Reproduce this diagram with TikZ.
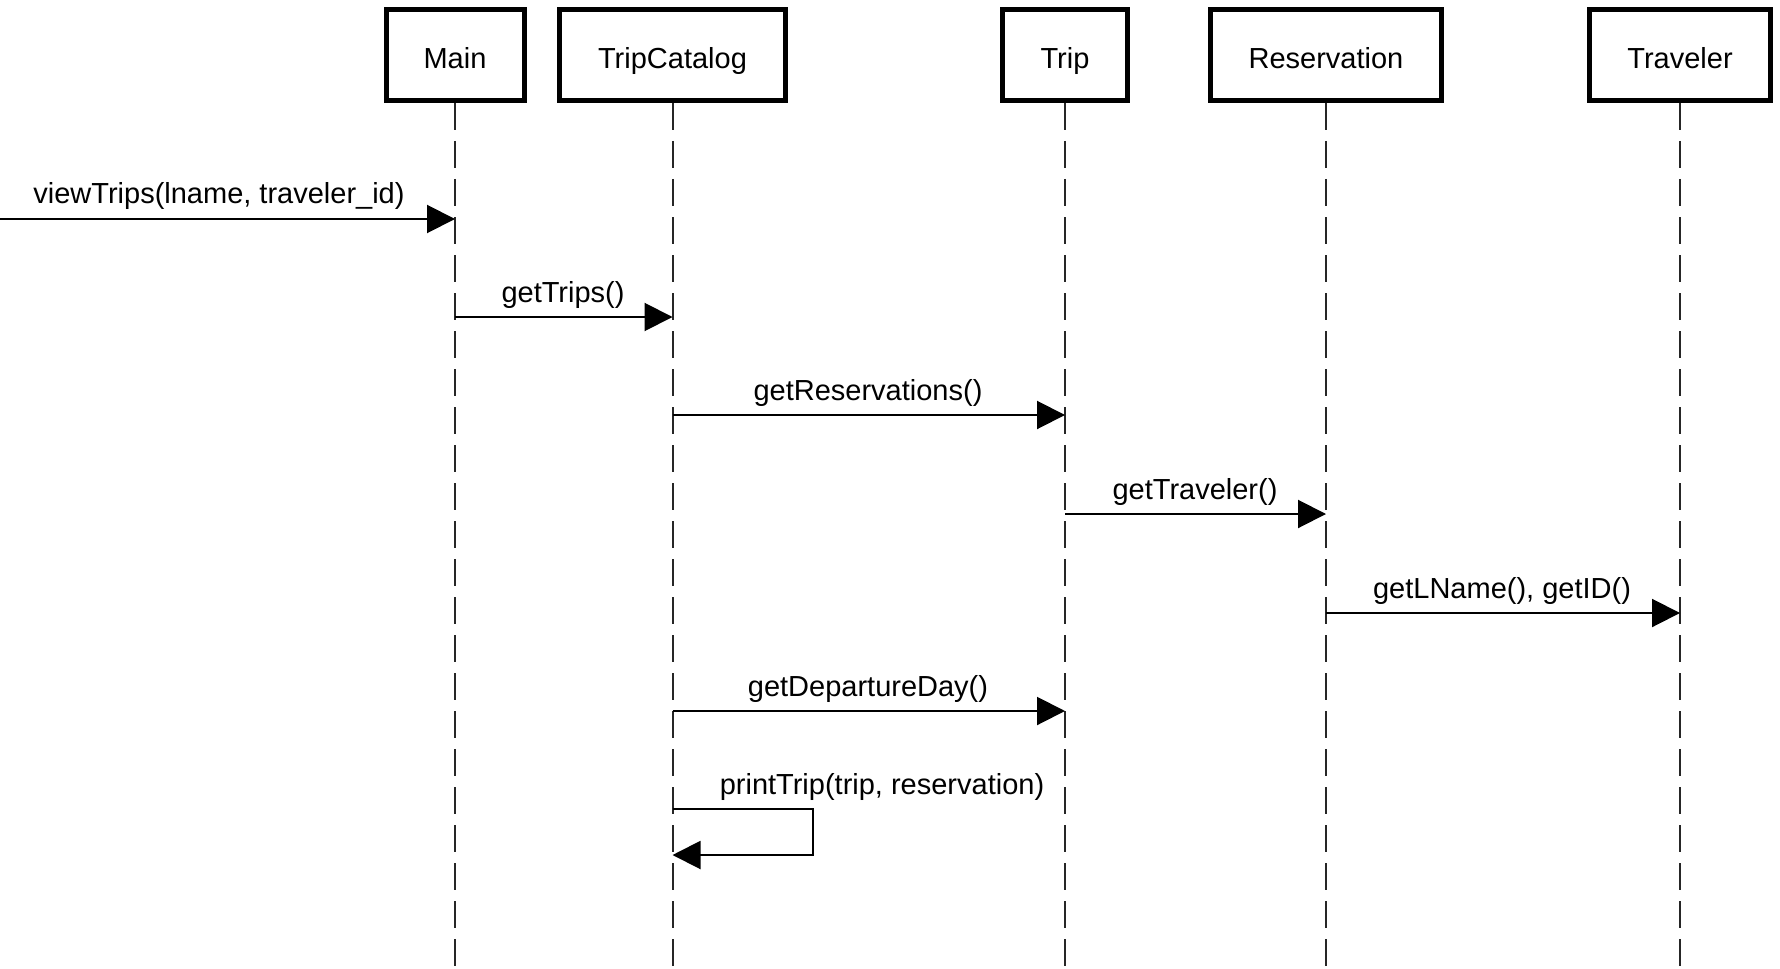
\documentclass[tikz,border=0pt]{standalone}
\usepackage{fontspec}
\setmainfont{Liberation Sans}
\usetikzlibrary{arrows.meta}
\tikzset{
  actor/.style={draw=black, line width=2.5pt, fill=white, minimum height=45.5pt, inner sep=0pt, text height=13.8pt, text depth=0pt, font=\fontsize{14.5}{17}\selectfont},
  lifeline/.style={draw=black!85, line width=1pt, dash pattern=on 13.5pt off 5.5pt},
  msg/.style={draw=black, line width=1pt, -{Triangle[length=14pt,width=14pt]}},
  lbl/.style={anchor=base, inner sep=0pt, font=\fontsize{14.5}{17}\selectfont}
}
\begin{document}
\begin{tikzpicture}[x=0.5pt,y=-0.5pt]
\useasboundingbox (0,0) rectangle (1780,968);
% actors
\node[actor, minimum width=69pt]  (main) at (455,55) {Main};
\node[actor, minimum width=113pt] (tc)   at (672.5,55) {TripCatalog};
\node[actor, minimum width=62.5pt]  (trip) at (1065,55) {Trip};
\node[actor, minimum width=115.5pt] (res)  at (1326,55) {Reservation};
\node[actor, minimum width=90.5pt]  (trav) at (1680,55) {Traveler};
% lifeline ends
\coordinate (mainE) at (455,968);
\coordinate (tcE)   at (672.5,968);
\coordinate (tripE) at (1065,968);
\coordinate (resE)  at (1326,968);
\coordinate (travE) at (1680,968);
\draw[lifeline] (main.south) -- (mainE);
\draw[lifeline] (tc.south) -- (tcE);
\draw[lifeline] (trip.south) -- (tripE);
\draw[lifeline] (res.south) -- (resE);
\draw[lifeline] (trav.south) -- (travE);
% message anchor points
\coordinate (start) at (-20,219);
\coordinate (m1) at (455,219);
\coordinate (m2s) at (455,317);
\coordinate (m2e) at (672.5,317);
\coordinate (m3s) at (672.5,415);
\coordinate (m3e) at (1065,415);
\coordinate (m4s) at (1065,514);
\coordinate (m4e) at (1326,514);
\coordinate (m5s) at (1326,613);
\coordinate (m5e) at (1680,613);
\coordinate (m6s) at (672.5,711);
\coordinate (m6e) at (1065,711);
\coordinate (m7s) at (672.5,809);
\coordinate (m7a) at (813,809);
\coordinate (m7b) at (813,855);
\coordinate (m7e) at (672.5,855);
% messages
\draw[msg] (start) -- (m1);
\draw[msg] (m2s) -- (m2e);
\draw[msg] (m3s) -- (m3e);
\draw[msg] (m4s) -- (m4e);
\draw[msg] (m5s) -- (m5e);
\draw[msg] (m6s) -- (m6e);
\draw[msg] (m7s) -- (m7a) -- (m7b) -- (m7e);
% labels
\node[lbl] (l1) at (219,204) {viewTrips(lname, traveler\_id)};
\node[lbl] (l2) at (563,302) {getTrips()};
\node[lbl] (l3) at (868,400) {getReservations()};
\node[lbl] (l4) at (1195,499) {getTraveler()};
\node[lbl] (l5) at (1502,598) {getLName(), getID()};
\node[lbl] (l6) at (868,696) {getDepartureDay()};
\node[lbl] (l7) at (882,794) {printTrip(trip, reservation)};
\end{tikzpicture}
\end{document}
